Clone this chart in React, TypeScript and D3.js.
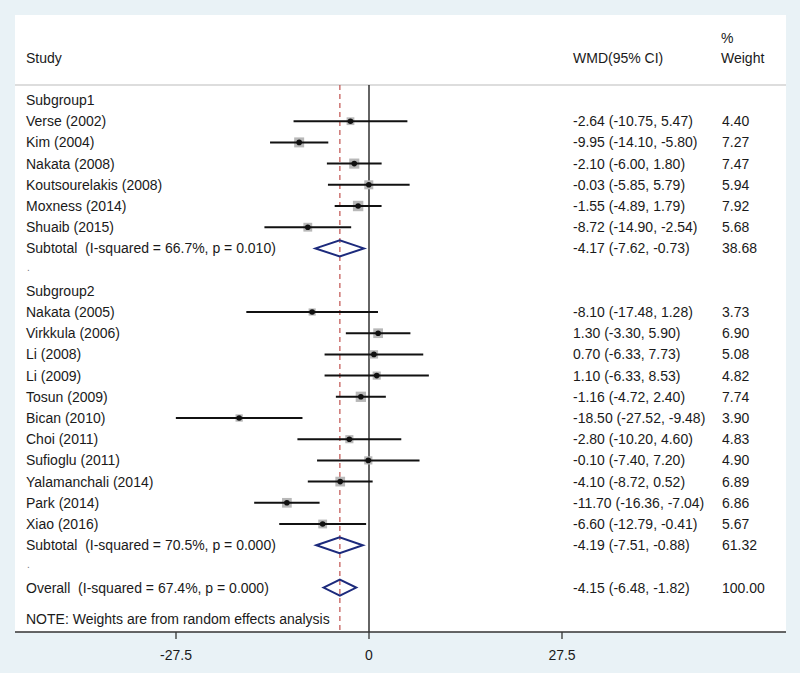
import React from "react";
import * as d3 from "d3";

// ---- data ----
const sg1Studies = ["Verse (2002)", "Kim (2004)", "Nakata (2008)", "Koutsourelakis (2008)", "Moxness (2014)", "Shuaib (2015)"];
const sg1Est = [-2.64, -9.95, -2.1, -0.03, -1.55, -8.72];
const sg1Lo = [-10.75, -14.1, -6.0, -5.85, -4.89, -14.9];
const sg1Hi = [5.47, -5.8, 1.8, 5.79, 1.79, -2.54];
const sg1Weight = [4.4, 7.27, 7.47, 5.94, 7.92, 5.68];
const sg1Total = { label: "Subtotal  (I-squared = 66.7%, p = 0.010)", est: -4.17, lo: -7.62, hi: -0.73, w: 38.68 };

const sg2Studies = ["Nakata (2005)", "Virkkula (2006)", "Li (2008)", "Li (2009)", "Tosun (2009)", "Bican (2010)", "Choi (2011)", "Sufioglu (2011)", "Yalamanchali (2014)", "Park (2014)", "Xiao (2016)"];
const sg2Est = [-8.1, 1.3, 0.7, 1.1, -1.16, -18.5, -2.8, -0.1, -4.1, -11.7, -6.6];
const sg2Lo = [-17.48, -3.3, -6.33, -6.33, -4.72, -27.52, -10.2, -7.4, -8.72, -16.36, -12.79];
const sg2Hi = [1.28, 5.9, 7.73, 8.53, 2.4, -9.48, 4.6, 7.2, 0.52, -7.04, -0.41];
const sg2Weight = [3.73, 6.9, 5.08, 4.82, 7.74, 3.9, 4.83, 4.9, 6.89, 6.86, 5.67];
const sg2Total = { label: "Subtotal  (I-squared = 70.5%, p = 0.000)", est: -4.19, lo: -7.51, hi: -0.88, w: 61.32 };

const overall = { label: "Overall  (I-squared = 67.4%, p = 0.000)", est: -4.15, lo: -6.48, hi: -1.82, w: 100.0 };
const xTicks = [-27.5, 0, 27.5];

const W = 800;
const H = 673;
const FONT = "'Liberation Sans', Arial, sans-serif";

// hyphen minus like the original, not the unicode one d3.format gives
const fmt = (v: number) => v.toFixed(2);
const ciText = (e: number, l: number, h: number) => `${fmt(e)} (${fmt(l)}, ${fmt(h)})`;

type Row =
  | { kind: "header"; label: string }
  | { kind: "study"; label: string; est: number; lo: number; hi: number; w: number }
  | { kind: "diamond"; label: string; est: number; lo: number; hi: number; w: number }
  | { kind: "dot" };

const rows: Row[] = [];
rows.push({ kind: "header", label: "Subgroup1" });
sg1Studies.forEach((s, i) => rows.push({ kind: "study", label: s, est: sg1Est[i], lo: sg1Lo[i], hi: sg1Hi[i], w: sg1Weight[i] }));
rows.push({ kind: "diamond", ...sg1Total });
rows.push({ kind: "dot" });
rows.push({ kind: "header", label: "Subgroup2" });
sg2Studies.forEach((s, i) => rows.push({ kind: "study", label: s, est: sg2Est[i], lo: sg2Lo[i], hi: sg2Hi[i], w: sg2Weight[i] }));
rows.push({ kind: "diamond", ...sg2Total });
rows.push({ kind: "dot" });
rows.push({ kind: "diamond", ...overall });

export default function App() {
  const x = d3.scaleLinear().domain([-27.5, 27.5]).range([176, 562]);
  const y = d3.scaleLinear().domain([0, 1]).range([100, 121.2]);
  const boxSide = d3.scaleSqrt().domain([0, 1]).range([0, 3.7]);

  const panel = { left: 15, top: 15, right: 786, bottom: 632 };
  const headLine = 85;
  const textX = 26;
  const ciX = 573;
  const wX = 722;
  const fs = 14;
  const diaH = 8;
  const txt = { fontSize: fs, fill: "#1a1a1a", dominantBaseline: "central" as const, style: { whiteSpace: "pre" as const } };

  return (
    <svg width={W} height={H} style={{ position: "absolute", left: 0, top: 0 }} fontFamily={FONT}>
      <rect x={0} y={0} width={W} height={H} fill="#e9f2f6" />
      <rect x={panel.left} y={panel.top} width={panel.right - panel.left} height={panel.bottom - panel.top} fill="#ffffff" />

      {/* column headers */}
      <text x={textX} y={58} {...txt}>Study</text>
      <text x={ciX} y={58} {...txt}>WMD(95% CI)</text>
      <text x={wX - 1} y={38} {...txt}>%</text>
      <text x={wX - 1} y={58} {...txt}>Weight</text>
      <line x1={panel.left} x2={panel.right} y1={headLine} y2={headLine} stroke="#bbbbbb" strokeWidth={1.2} />

      {/* reference lines */}
      <line x1={x(0)} x2={x(0)} y1={headLine} y2={panel.bottom} stroke="#111" strokeWidth={1.3} />
      <line x1={x(overall.est)} x2={x(overall.est)} y1={headLine} y2={panel.bottom} stroke="#c0504d" strokeWidth={1.2} strokeDasharray="5,4" />

      {rows.map((r, i) => {
        const cy = y(i);
        if (r.kind === "header")
          return <text key={i} x={textX} y={cy} {...txt}>{r.label}</text>;
        if (r.kind === "dot")
          return <text key={i} x={textX + 1} y={cy - 2} fontSize={fs - 4} fill="#777" dominantBaseline="central">.</text>;
        if (r.kind === "study") {
          const s = boxSide(r.w);
          return (
            <g key={i}>
              <text x={textX} y={cy} {...txt}>{r.label}</text>
              <rect x={x(r.est) - s / 2} y={cy - s / 2} width={s} height={s} fill="#b8b8b8" />
              <line x1={x(r.lo)} x2={x(r.hi)} y1={cy} y2={cy} stroke="#111" strokeWidth={2} />
              <circle cx={x(r.est)} cy={cy} r={2.8} fill="#111" />
              <text x={ciX} y={cy} {...txt}>{ciText(r.est, r.lo, r.hi)}</text>
              <text x={wX} y={cy} {...txt}>{fmt(r.w)}</text>
            </g>
          );
        }
        const pts: [number, number][] = [
          [x(r.lo), cy],
          [x(r.est), cy - diaH],
          [x(r.hi), cy],
          [x(r.est), cy + diaH],
        ];
        return (
          <g key={i}>
            <text x={textX} y={cy} {...txt}>{r.label}</text>
            <path d={(d3.line()(pts) as string) + "Z"} fill="none" stroke="#1c2a7c" strokeWidth={2} />
            <text x={ciX} y={cy} {...txt}>{ciText(r.est, r.lo, r.hi)}</text>
            <text x={wX} y={cy} {...txt}>{fmt(r.w)}</text>
          </g>
        );
      })}

      <text x={textX} y={619} {...txt}>NOTE: Weights are from random effects analysis</text>

      {/* x axis */}
      <line x1={panel.left} x2={panel.right} y1={panel.bottom} y2={panel.bottom} stroke="#333" strokeWidth={1.3} />
      {xTicks.map((t) => (
        <g key={t}>
          <line x1={x(t)} x2={x(t)} y1={panel.bottom} y2={panel.bottom + 7} stroke="#333" strokeWidth={1.3} />
          <text x={x(t)} y={655} {...txt} textAnchor="middle">{t}</text>
        </g>
      ))}
    </svg>
  );
}
